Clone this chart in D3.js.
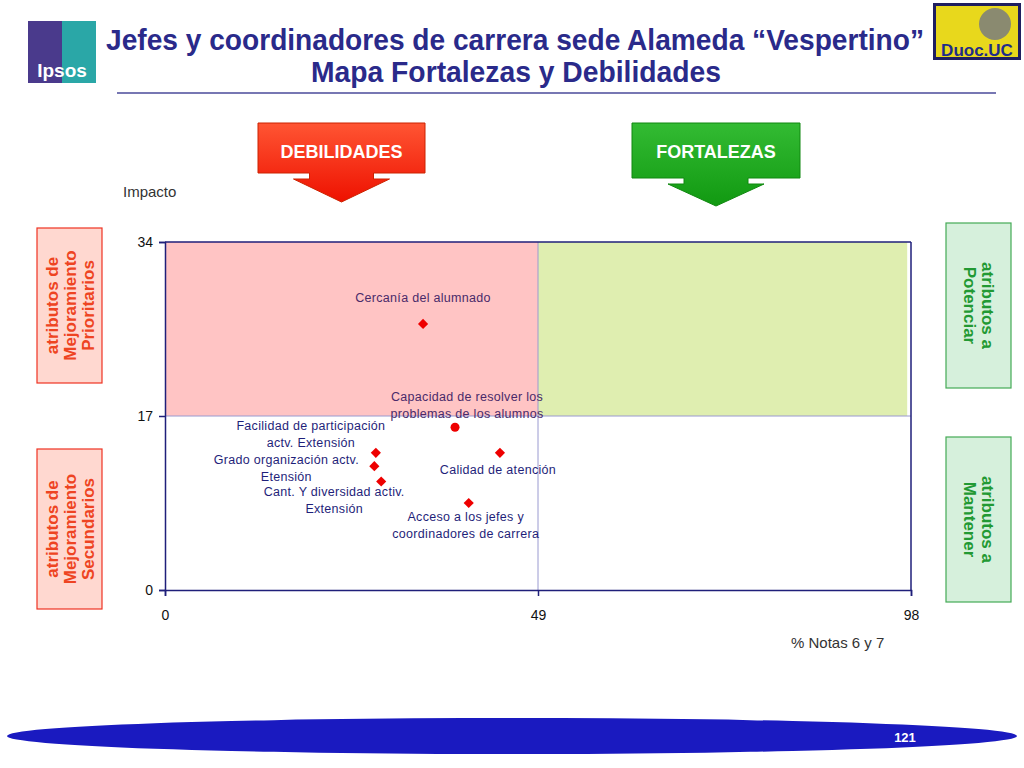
<!DOCTYPE html>
<html><head><meta charset="utf-8">
<script src="https://cdn.jsdelivr.net/npm/d3@7"></script>
<style>body{margin:0;background:#fff;font-family:"Liberation Sans",Arial,sans-serif}</style>
</head><body>
<svg id="c" width="1024" height="768"></svg>
<script>
// data
const labels = ["Cercanía del alumnado", "Capacidad de resolver los problemas de los alumnos", "Calidad de atención",
  "Facilidad de participación actv. Extensión", "Grado organización actv. Etensión", "Cant. Y diversidad activ. Extensión",
  "Acceso a los jefes y coordinadores de carrera"];
const notas = [33.9, 38.1, 44.0, 27.7, 27.5, 28.4, 39.9];
const impacto = [26.0, 15.9, 13.4, 13.4, 12.1, 10.6, 8.5];
const shapes = ["d", "c", "d", "d", "d", "d", "d"];
const xTicks = [0, 49, 98];
const yTicks = [0, 17, 34];

const svg = d3.select("#c");
const navy = "#1f1f7a";

// header
svg.append("rect").attr("x", 28).attr("y", 21).attr("width", 68).attr("height", 62).attr("fill", "#4a3a8c");
svg.append("path").attr("d", "M62,21 L96,21 L96,83 L62,83 Z").attr("fill", "#2aa7a7");
svg.append("text").attr("x", 62).attr("y", 77).attr("text-anchor", "middle").attr("fill", "#fff")
  .attr("font-size", 19).attr("font-weight", "bold").text("Ipsos");
svg.append("rect").attr("x", 933).attr("y", 3).attr("width", 88).attr("height", 57).attr("fill", "#1f1f60");
svg.append("rect").attr("x", 936).attr("y", 6).attr("width", 82).attr("height", 51).attr("fill", "#e8d81c");
svg.append("circle").attr("cx", 995).attr("cy", 24).attr("r", 16).attr("fill", "#8a8a70");
svg.append("text").attr("x", 977).attr("y", 56).attr("text-anchor", "middle").attr("fill", "#1f2c8a")
  .attr("font-size", 17).attr("font-weight", "bold").text("Duoc.UC");
svg.append("text").attr("x", 106).attr("y", 50).attr("fill", "#2a2a8a").attr("textLength", 818).attr("lengthAdjust", "spacingAndGlyphs")
  .attr("font-size", 29).attr("font-weight", "bold").text("Jefes y coordinadores de carrera sede Alameda “Vespertino”");
svg.append("text").attr("x", 311).attr("y", 82).attr("fill", "#2a2a8a").attr("textLength", 410).attr("lengthAdjust", "spacingAndGlyphs")
  .attr("font-size", 29).attr("font-weight", "bold").text("Mapa Fortalezas y Debilidades");
svg.append("line").attr("x1", 117).attr("x2", 996).attr("y1", 93).attr("y2", 93).attr("stroke", "#4a4a9a").attr("stroke-width", 1.5);

// arrows
const defs = svg.append("defs");
const g1 = defs.append("linearGradient").attr("id", "rg").attr("x1", 0).attr("x2", 0).attr("y1", 0).attr("y2", 1);
g1.append("stop").attr("offset", 0).attr("stop-color", "#ff5533");
g1.append("stop").attr("offset", 1).attr("stop-color", "#ee1100");
const g2 = defs.append("linearGradient").attr("id", "gg").attr("x1", 0).attr("x2", 0).attr("y1", 0).attr("y2", 1);
g2.append("stop").attr("offset", 0).attr("stop-color", "#33bb33");
g2.append("stop").attr("offset", 1).attr("stop-color", "#119911");
function arrow(x, y, w, h, tip, fill, stroke, txt) {
  const cx = x + w / 2;
  svg.append("path").attr("d", `M${x},${y}H${x + w}V${y + h}H${cx + 32}V${y + h + 6}H${cx + 48}L${cx},${tip}L${cx - 48},${y + h + 6}H${cx - 32}V${y + h}H${x}Z`)
    .attr("fill", fill).attr("stroke", stroke);
  svg.append("text").attr("x", cx).attr("y", y + 35).attr("text-anchor", "middle").attr("fill", "#fff")
    .attr("font-size", 18).attr("font-weight", "bold").text(txt);
}
arrow(258, 123, 167, 50, 202, "url(#rg)", "#cc2200", "DEBILIDADES");
arrow(632, 123, 168, 55, 206, "url(#gg)", "#118811", "FORTALEZAS");

// plot
const x = d3.scaleLinear().domain([0, 98]).range([165, 911]);
const y = d3.scaleLinear().domain([0, 34]).range([590, 242]);
svg.append("rect").attr("x", x(0)).attr("y", y(34)).attr("width", x(49) - x(0)).attr("height", y(17) - y(34)).attr("fill", "#ffc4c4");
svg.append("rect").attr("x", x(49)).attr("y", y(34)).attr("width", x(97.5) - x(49)).attr("height", y(17) - y(34)).attr("fill", "#dfeeb0");
svg.append("line").attr("x1", x(49)).attr("x2", x(49)).attr("y1", y(0)).attr("y2", y(34)).attr("stroke", "#9a9ad0");
svg.append("line").attr("x1", x(0)).attr("x2", x(98)).attr("y1", y(17)).attr("y2", y(17)).attr("stroke", "#9a9ad0");
svg.append("line").attr("x1", x(0)).attr("x2", x(98)).attr("y1", y(34)).attr("y2", y(34)).attr("stroke", navy).attr("stroke-width", 1.5);
svg.append("line").attr("x1", x(98)).attr("x2", x(98)).attr("y1", y(0)).attr("y2", y(34)).attr("stroke", navy).attr("stroke-width", 1.5);

const ax = svg.append("g").attr("transform", `translate(0,${y(0)})`)
  .call(d3.axisBottom(x).tickValues(xTicks).tickSize(6).tickPadding(14));
const ay = svg.append("g").attr("transform", `translate(${x(0)},0)`)
  .call(d3.axisLeft(y).tickValues(yTicks).tickSize(6).tickPadding(6));
[ax, ay].forEach(a => {
  a.selectAll("path,line").attr("stroke", navy).attr("stroke-width", 1.5);
  a.selectAll("text").attr("font-size", 14).attr("fill", "#111").attr("font-family", "Liberation Sans, Arial");
});
svg.append("text").attr("x", 123).attr("y", 197).attr("font-size", 15).attr("fill", "#333").text("Impacto");
svg.append("text").attr("x", 791).attr("y", 648).attr("font-size", 15).attr("fill", "#333").text("% Notas 6 y 7");

// label placement (offsets from point, lines of text)
const lab = [
  {dx: 0, dy: -22, lines: ["Cercanía del alumnado"], col: "#4a2a6a"},
  {dx: 12, dy: -26, lines: ["Capacidad de resolver los", "problemas de los alumnos"], col: "#4a2a6a"},
  {dx: -2, dy: 21, lines: ["Calidad de atención"], col: navy},
  {dx: -65, dy: -23, lines: ["Facilidad de participación", "actv. Extensión"], col: navy},
  {dx: -88, dy: -2, lines: ["Grado organización actv.", "Etensión"], col: navy},
  {dx: -47, dy: 14, lines: ["Cant. Y diversidad activ.", "Extensión"], col: navy},
  {dx: -3, dy: 18, lines: ["Acceso a los jefes y", "coordinadores de carrera"], col: navy}
];
const pts = svg.append("g");
labels.forEach((l, i) => {
  const px = x(notas[i]), py = y(impacto[i]);
  if (shapes[i] === "c") pts.append("circle").attr("cx", px).attr("cy", py).attr("r", 4.5).attr("fill", "#ee0000");
  else pts.append("rect").attr("x", -3.6).attr("y", -3.6).attr("width", 7.2).attr("height", 7.2)
    .attr("transform", `translate(${px},${py}) rotate(45)`).attr("fill", "#ee0000");
  const L = lab[i];
  const t = pts.append("text").attr("text-anchor", "middle").attr("font-size", 12.5).attr("fill", L.col).attr("letter-spacing", 0.3);
  L.lines.forEach((s, k) => t.append("tspan").attr("x", px + L.dx).attr("y", py + L.dy + k * 17).text(s));
});

// side boxes
function sideBox(x0, y0, w, h, fill, stroke, col, lines, rot) {
  svg.append("rect").attr("x", x0).attr("y", y0).attr("width", w).attr("height", h).attr("fill", fill).attr("stroke", stroke).attr("stroke-width", 1.2);
  const cx = x0 + w / 2, cy = y0 + h / 2;
  const t = svg.append("text").attr("transform", `translate(${cx},${cy}) rotate(${rot})`).attr("text-anchor", "middle")
    .attr("fill", col).attr("font-size", 17).attr("font-weight", "bold");
  const n = lines.length;
  lines.forEach((s, k) => t.append("tspan").attr("x", 0).attr("y", (k - (n - 1) / 2) * 18 + 6).text(s));
}
sideBox(37, 228, 65, 155, "#ffd8d0", "#ee3322", "#ee4422", ["atributos de", "Mejoramiento", "Prioritarios"], -90);
sideBox(37, 449, 65, 160, "#ffd8d0", "#ee3322", "#ee4422", ["atributos de", "Mejoramiento", "Secundarios"], -90);
sideBox(946, 223, 65, 165, "#d6f0dc", "#44aa55", "#229933", ["atributos a", "Potenciar"], 90);
sideBox(946, 437, 65, 165, "#d6f0dc", "#44aa55", "#229933", ["atributos a", "Mantener"], 90);

// footer swoosh
svg.append("ellipse").attr("cx", 512).attr("cy", 736).attr("rx", 505).attr("ry", 18).attr("fill", "#1a1ac0");
svg.append("text").attr("x", 905).attr("y", 742).attr("text-anchor", "middle").attr("fill", "#fff").attr("font-size", 13).attr("font-weight", "bold").text("121");
</script>
</body></html>
